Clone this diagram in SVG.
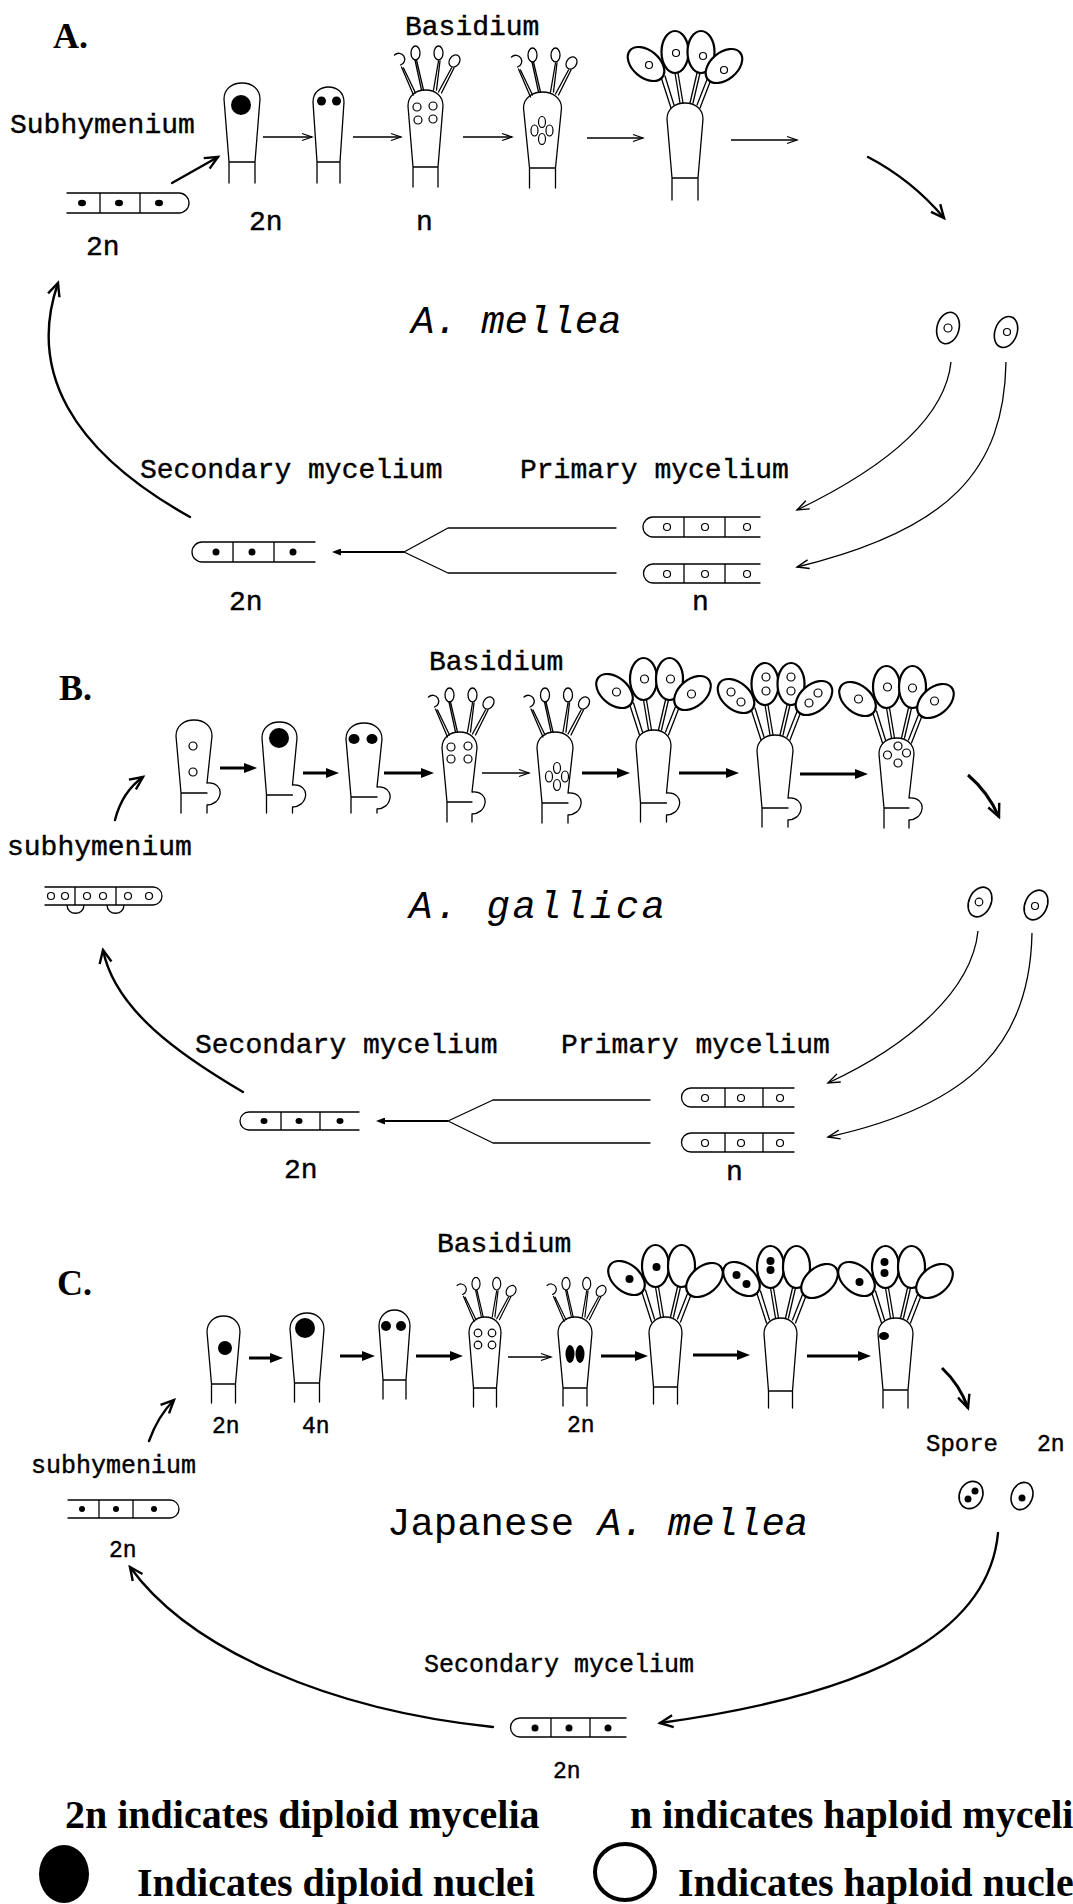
<svg xmlns="http://www.w3.org/2000/svg" width="1073" height="1904" viewBox="0 0 1073 1904">
<defs>
<style>
.ln{fill:none;stroke:#000;stroke-width:1.3;stroke-linecap:round;stroke-linejoin:round}
.nu{fill:none;stroke:#000;stroke-width:1.2}
.dk{fill:#000}
.bs{fill:#fff;stroke:#000;stroke-width:2.2}
.fs{fill:#fff;stroke:#000;stroke-width:1.6}
.t{font-family:"Liberation Mono","DejaVu Sans Mono",monospace;font-size:28px;fill:#000;stroke:#000;stroke-width:0.4}
.t2{font-size:24px}
.t3{font-size:25px}
.t4{font-size:23px}
.sn{font-family:"Liberation Mono","DejaVu Sans Mono",monospace;font-size:39px;fill:#000}
.it{font-style:italic}
.hd{font-family:"Liberation Serif","Times New Roman",serif;font-weight:bold;font-size:36px;fill:#000}
.lg{font-family:"Liberation Serif","Times New Roman",serif;font-weight:bold;font-size:40px;fill:#000}
.a1{fill:none;stroke:#000;stroke-width:1.3}
.a3{fill:none;stroke:#000;stroke-width:3}
.a2{fill:none;stroke:#000;stroke-width:2.4;stroke-linecap:round}
</style>
<marker id="hT" viewBox="0 0 10 8" refX="10" refY="4" markerWidth="10" markerHeight="8" markerUnits="userSpaceOnUse" orient="auto" overflow="visible"><path d="M0,0.5 L10,4 L0,7.5" fill="none" stroke="#000" stroke-width="1.3"/></marker>
<marker id="hB" viewBox="0 0 13 10" refX="3" refY="5" markerWidth="13" markerHeight="10" markerUnits="userSpaceOnUse" orient="auto"><path d="M0,0 L13,5 L0,10z" fill="#000"/></marker>
<marker id="hS" viewBox="0 0 9 7" refX="2" refY="3.5" markerWidth="9" markerHeight="7" markerUnits="userSpaceOnUse" orient="auto"><path d="M0,0 L9,3.5 L0,7z" fill="#000"/></marker>
<marker id="hC" viewBox="0 0 14 12" refX="13" refY="6" markerWidth="14" markerHeight="12" markerUnits="userSpaceOnUse" orient="auto" overflow="visible"><path d="M0,0 L13,6 L0,12" fill="none" stroke="#000" stroke-width="2.4"/></marker>
<marker id="hV" viewBox="0 0 12 10" refX="12" refY="5" markerWidth="12" markerHeight="10" markerUnits="userSpaceOnUse" orient="auto" overflow="visible"><path d="M0,0.5 L12,5 L0,9.5" fill="none" stroke="#000" stroke-width="1.4"/></marker>
<!-- sterigmata with four young spores, origin at the top of the basidium -->
<g id="stS">
<path class="ln" d="M-24,-23 L-12,5 M-22,-22 L-10,3 M-10.5,-30 L-4,0 M-9,-30 L-2,0 M13,-29 L8,0 M14.5,-29 L11,0 M26,-22 L13,2 M28.5,-22 L16,3"/>
<path class="ln" d="M-31,-35 A6,6 0 1 1 -25,-25"/>
<ellipse class="ln" cx="-10" cy="-37" rx="4.5" ry="7"/>
<ellipse class="ln" cx="13" cy="-37" rx="4.5" ry="7"/>
<ellipse class="ln" cx="29" cy="-29" rx="5" ry="6.5" transform="rotate(35 29 -29)"/>
</g>
<!-- sterigmata with four mature basidiospores -->
<g id="stB">
<path class="ln" d="M-24,-26 L-14,5 M-20,-27 L-11,2 M-10,-30 L-5,0 M-7,-30 L-2,0 M12,-30 L5,0 M15,-30 L8,0 M23,-26 L12,2 M27,-26 L15,5"/>
<ellipse class="bs" cx="-39" cy="-39" rx="21" ry="13.5" transform="rotate(40 -39 -39)"/>
<ellipse class="bs" cx="-10" cy="-51" rx="13.5" ry="21"/>
<ellipse class="bs" cx="16" cy="-51" rx="13.5" ry="21"/>
<ellipse class="bs" cx="39" cy="-37" rx="21" ry="13.5" transform="rotate(-40 39 -37)"/>
</g>
</defs>
<rect width="1073" height="1904" fill="#fff"/>

<!-- ===== A. A. mellea ===== -->
<g id="a-title"><text class="hd" x="53" y="48">A.</text></g>
<g id="a-labels">
<text class="t" x="405" y="35">Basidium</text>
<text class="t" x="10" y="133">Subhymenium</text>
<text class="t" x="86" y="255">2n</text>
<text class="t" x="249" y="230">2n</text>
<text class="t" x="416" y="230">n</text>
<text class="sn it" x="411" y="333">A. mellea</text>
<text class="t" x="140" y="478">Secondary mycelium</text>
<text class="t" x="520" y="478">Primary mycelium</text>
<text class="t" x="229" y="610">2n</text>
<text class="t" x="692" y="610">n</text>
</g>
<g id="a-subhym">
<path class="ln" d="M67,193 H179 A10,10 0 0 1 179,213 H67 M100,193 V213 M140,193 V213"/>
<ellipse class="dk" cx="82" cy="203" rx="4" ry="3.2"/><ellipse class="dk" cx="119" cy="203" rx="4" ry="3.2"/><ellipse class="dk" cx="159" cy="203" rx="4" ry="3.2"/>
</g>
<g id="a-cell1" transform="translate(242,83)">
<path class="ln" d="M-13,100 V79 L-18,16 C-18,6 -10,0 0,0 C10,0 18,6 18,16 L13,79 V100 M-13,79 H13"/>
<circle class="dk" cx="-1" cy="22" r="10"/>
</g>
<g id="a-cell2" transform="translate(328.5,87)">
<path class="ln" d="M-11.5,96 V75 L-15.5,15 C-15.5,5 -8,0 0,0 C8,0 15.5,5 15.5,15 L11.5,75 V96 M-11.5,75 H11.5"/>
<circle class="dk" cx="-7" cy="14" r="4.5"/><circle class="dk" cx="8" cy="14" r="4.5"/>
</g>
<g id="a-cell3" transform="translate(425.5,90)">
<path class="ln" d="M-12.5,97 V77 L-17.5,16 C-17.5,6 -10,0 0,0 C10,0 17.5,6 17.5,16 L12.5,77 V97 M-12.5,77 H12.5"/>
<use href="#stS"/>
<circle class="nu" cx="-8.5" cy="17" r="4"/><circle class="nu" cx="7.5" cy="16" r="4"/><circle class="nu" cx="-7.5" cy="30" r="4"/><circle class="nu" cx="7.5" cy="29" r="4"/>
</g>
<g id="a-cell4" transform="translate(542.5,92)">
<path class="ln" d="M-13,96 V76 L-19,16 C-19,6 -10,0 0,0 C10,0 19,6 19,16 L13,76 V96 M-13,76 H13"/>
<use href="#stS"/>
<ellipse class="nu" cx="-0.5" cy="30" rx="3.5" ry="5.5"/><ellipse class="nu" cx="-0.5" cy="47" rx="3.5" ry="5.5"/><ellipse class="nu" cx="-8" cy="38.5" rx="3.5" ry="5.5"/><ellipse class="nu" cx="7" cy="38.5" rx="3.5" ry="5.5"/>
</g>
<g id="a-cell5" transform="translate(685,103)">
<path class="ln" d="M-13,97 V75 L-18,16 C-18,6 -10,0 0,0 C10,0 18,6 18,16 L13,75 V97 M-13,75 H13"/>
<use href="#stB"/>
<circle class="nu" cx="-36" cy="-38" r="3.5"/><circle class="nu" cx="-9" cy="-50" r="3.5"/><circle class="nu" cx="18" cy="-47" r="3.5"/><circle class="nu" cx="39" cy="-33" r="3.5"/>
</g>
<g id="a-spores">
<ellipse class="fs" cx="948" cy="328" rx="11" ry="16" transform="rotate(15 948 328)"/><circle class="nu" cx="948" cy="328" r="4"/>
<ellipse class="fs" cx="1006" cy="332" rx="11" ry="16" transform="rotate(20 1006 332)"/><circle class="nu" cx="1007" cy="332" r="3.5"/>
</g>
<g id="a-secondary">
<path class="ln" d="M315,542 H202 A10,10 0 0 0 202,562 H315 M233,542 V562 M274,542 V562"/>
<circle class="dk" cx="216" cy="552" r="3.5"/><circle class="dk" cx="252" cy="552" r="3.5"/><circle class="dk" cx="293" cy="552" r="3.5"/>
</g>
<g id="a-primary">
<path class="ln" d="M760,517 H653 A10,10 0 0 0 653,537 H760 M684,517 V537 M725,517 V537"/>
<circle class="nu" cx="667" cy="527" r="3.5"/><circle class="nu" cx="705" cy="527" r="3.5"/><circle class="nu" cx="747" cy="527" r="3.5"/>
<path class="ln" d="M760,564 H653 A9.5,9.5 0 0 0 653,583 H760 M684,564 V583 M725,564 V583"/>
<circle class="nu" cx="667" cy="574" r="3.5"/><circle class="nu" cx="705" cy="574" r="3.5"/><circle class="nu" cx="747" cy="574" r="3.5"/>
</g>

<!-- ===== B. A. gallica ===== -->
<g id="b-title"><text class="hd" x="59" y="700">B.</text></g>
<g id="b-labels">
<text class="t" x="429" y="670">Basidium</text>
<text class="t" x="7" y="855">subhymenium</text>
<text class="sn it" x="409" y="918" textLength="256">A. gallica</text>
<text class="t" x="195" y="1053">Secondary mycelium</text>
<text class="t" x="561" y="1053">Primary mycelium</text>
<text class="t" x="284" y="1178">2n</text>
<text class="t" x="726" y="1180">n</text>
</g>
<g id="b-subhym">
<path class="ln" d="M45,887 H153 A9,9 0 0 1 153,905 H45 M75,887 V905 M116,887 V905 M67,905 C67,916 84,916 84,905 M107,905 C107,916 124,916 124,905"/>
<circle class="nu" cx="51" cy="896" r="3.5"/><circle class="nu" cx="65" cy="896" r="3.5"/><circle class="nu" cx="87" cy="896" r="3.5"/><circle class="nu" cx="103" cy="896" r="3.5"/><circle class="nu" cx="128" cy="896" r="3.5"/><circle class="nu" cx="149" cy="896" r="3.5"/>
</g>
<g id="b-cell1" transform="translate(194,720)">
<path class="ln" d="M-13,93 V73 L-18,16 C-18,6 -10,0 0,0 C10,0 18,6 18,16 L13,63 C22,62 27,68 26,74 C25,81 19,85 13,85 V93 M-13,73 H13"/>
<circle class="nu" cx="-1" cy="26" r="4"/><circle class="nu" cx="-1" cy="52" r="4"/>
</g>
<g id="b-cell2" transform="translate(279.5,722)">
<path class="ln" d="M-13,91 V73 L-17.5,16 C-17.5,6 -10,0 0,0 C10,0 17.5,6 17.5,16 L13,63 C22,62 27,68 26,74 C25,81 19,85 13,85 V91 M-13,73 H13"/>
<circle class="dk" cx="-0.5" cy="16" r="10"/>
</g>
<g id="b-cell3" transform="translate(364,723)">
<path class="ln" d="M-13,90 V74 L-18,16 C-18,6 -10,0 0,0 C10,0 18,6 18,16 L13,64 C22,63 27,69 26,75 C25,82 19,86 13,86 V90 M-13,74 H13"/>
<ellipse class="dk" cx="-10" cy="16" rx="5.5" ry="5"/><ellipse class="dk" cx="8" cy="16" rx="5.5" ry="5"/>
</g>
<g id="b-cell4" transform="translate(459.5,732)">
<path class="ln" d="M-12.5,90 V70 L-17.5,16 C-17.5,6 -10,0 0,0 C10,0 17.5,6 17.5,16 L12.5,60 C21.5,59 26.5,65 25.5,71 C24.5,78 18.5,82 12.5,82 V90 M-12.5,70 H12.5"/>
<use href="#stS"/>
<circle class="nu" cx="-8.5" cy="15" r="4"/><circle class="nu" cx="8.5" cy="14" r="4"/><circle class="nu" cx="-8.5" cy="27" r="4"/><circle class="nu" cx="8.5" cy="27" r="4"/>
</g>
<g id="b-cell5" transform="translate(555,732)">
<path class="ln" d="M-13,91 V71 L-18,16 C-18,6 -10,0 0,0 C10,0 18,6 18,16 L13,61 C22,60 27,66 26,72 C25,79 19,83 13,83 V91 M-13,71 H13"/>
<use href="#stS"/>
<ellipse class="nu" cx="2" cy="36" rx="3.5" ry="5.5"/><ellipse class="nu" cx="2" cy="53" rx="3.5" ry="5.5"/><ellipse class="nu" cx="-6" cy="44.5" rx="3.5" ry="5.5"/><ellipse class="nu" cx="10" cy="44.5" rx="3.5" ry="5.5"/>
</g>
<g id="b-cell6" transform="translate(653.5,730)">
<path class="ln" d="M-13,92 V73 L-17.5,16 C-17.5,6 -10,0 0,0 C10,0 17.5,6 17.5,16 L13,63 C22,62 27,68 26,74 C25,81 19,85 13,85 V92 M-13,73 H13"/>
<use href="#stB"/>
<circle class="nu" cx="-37" cy="-38" r="4"/><circle class="nu" cx="-9" cy="-51" r="4"/><circle class="nu" cx="17" cy="-51" r="4"/><circle class="nu" cx="38" cy="-36" r="4"/>
</g>
<g id="b-cell7" transform="translate(775,735)">
<path class="ln" d="M-13,92 V73 L-18,16 C-18,6 -10,0 0,0 C10,0 18,6 18,16 L13,63 C22,62 27,68 26,74 C25,81 19,85 13,85 V92 M-13,73 H13"/>
<use href="#stB"/>
<circle class="nu" cx="-44" cy="-43" r="4"/><circle class="nu" cx="-34" cy="-33" r="4"/>
<circle class="nu" cx="-9" cy="-58" r="4"/><circle class="nu" cx="-9" cy="-44" r="4"/>
<circle class="nu" cx="16" cy="-58" r="4"/><circle class="nu" cx="16" cy="-44" r="4"/>
<circle class="nu" cx="43" cy="-42" r="4"/><circle class="nu" cx="34" cy="-32" r="4"/>
</g>
<g id="b-cell8" transform="translate(896.5,738)">
<path class="ln" d="M-12.5,90 V70 L-17.5,16 C-17.5,6 -10,0 0,0 C10,0 17.5,6 17.5,16 L12.5,60 C21.5,59 26.5,65 25.5,71 C24.5,78 18.5,82 12.5,82 V90 M-12.5,70 H12.5"/>
<use href="#stB"/>
<circle class="nu" cx="-38" cy="-39" r="4"/><circle class="nu" cx="-9" cy="-51" r="4"/><circle class="nu" cx="16" cy="-50" r="4"/><circle class="nu" cx="38" cy="-37" r="4"/>
<circle class="nu" cx="1.5" cy="8" r="4"/><circle class="nu" cx="-9" cy="17" r="4"/><circle class="nu" cx="10" cy="15" r="4"/><circle class="nu" cx="1.5" cy="25" r="4"/>
</g>
<g id="b-spores">
<ellipse class="fs" cx="980" cy="902" rx="11" ry="15.5" transform="rotate(25 980 902)"/><circle class="nu" cx="979" cy="902" r="3.8"/>
<ellipse class="fs" cx="1036" cy="905" rx="11" ry="15.5" transform="rotate(25 1036 905)"/><circle class="nu" cx="1035" cy="906" r="3.5"/>
</g>
<g id="b-secondary">
<path class="ln" d="M359,1112 H249 A9,9 0 0 0 249,1130 H359 M281,1112 V1130 M320,1112 V1130"/>
<ellipse class="dk" cx="264" cy="1121" rx="3.5" ry="3"/><ellipse class="dk" cx="299" cy="1121" rx="3.5" ry="3"/><ellipse class="dk" cx="340" cy="1121" rx="3.5" ry="3"/>
</g>
<g id="b-primary">
<path class="ln" d="M794,1088 H691 A9.5,9.5 0 0 0 691,1107 H794 M725,1088 V1107 M763,1088 V1107"/>
<circle class="nu" cx="705" cy="1098" r="3.5"/><circle class="nu" cx="741" cy="1098" r="3.5"/><circle class="nu" cx="780" cy="1098" r="3.5"/>
<path class="ln" d="M794,1133 H691 A9.5,9.5 0 0 0 691,1152 H794 M725,1133 V1152 M763,1133 V1152"/>
<circle class="nu" cx="705" cy="1143" r="3.5"/><circle class="nu" cx="741" cy="1143" r="3.5"/><circle class="nu" cx="780" cy="1143" r="3.5"/>
</g>

<!-- ===== C. Japanese A. mellea ===== -->
<g id="c-title"><text class="hd" x="57" y="1295">C.</text></g>
<g id="c-labels">
<text class="t" x="437" y="1252">Basidium</text>
<text class="t t4" x="212" y="1433">2n</text>
<text class="t t4" x="302" y="1433">4n</text>
<text class="t t4" x="567" y="1432">2n</text>
<text class="t t3" x="31" y="1473">subhymenium</text>
<text class="t t4" x="109" y="1557">2n</text>
<text class="t t2" x="926" y="1451">Spore</text>
<text class="t t4" x="1037" y="1451">2n</text>
<text class="sn" x="387" y="1535">Japanese <tspan class="it">A. mellea</tspan></text>
<text class="t t3" x="424" y="1672">Secondary mycelium</text>
<text class="t t4" x="553" y="1778">2n</text>
</g>
<g id="c-subhym">
<path class="ln" d="M68,1500 H170 A9,9 0 0 1 170,1518 H68 M99,1500 V1518 M133,1500 V1518"/>
<circle class="dk" cx="82" cy="1509" r="3"/><circle class="dk" cx="116" cy="1509" r="3"/><circle class="dk" cx="154" cy="1509" r="3"/>
</g>
<g id="c-cell1" transform="translate(223.5,1316)">
<path class="ln" d="M-12,87 V68 L-16.5,16 C-16.5,6 -9,0 0,0 C9,0 16.5,6 16.5,16 L12,68 V87 M-12,68 H12"/>
<circle class="dk" cx="1.5" cy="32" r="7"/>
</g>
<g id="c-cell2" transform="translate(307,1313)">
<path class="ln" d="M-12.5,89 V70 L-17,16 C-17,6 -9,0 0,0 C9,0 17,6 17,16 L12.5,70 V89 M-12.5,70 H12.5"/>
<circle class="dk" cx="-2" cy="15" r="10"/>
</g>
<g id="c-cell3" transform="translate(394.5,1310)">
<path class="ln" d="M-11.5,89 V70 L-15.5,16 C-15.5,6 -8,0 0,0 C8,0 15.5,6 15.5,16 L11.5,70 V89 M-11.5,70 H11.5"/>
<circle class="dk" cx="-8.5" cy="16" r="5"/><circle class="dk" cx="6.5" cy="16" r="5"/>
</g>
<g id="c-cell4" transform="translate(485,1317)">
<path class="ln" d="M-11.5,90 V71 L-16,16 C-16,6 -9,0 0,0 C9,0 16,6 16,16 L11.5,71 V90 M-11.5,71 H11.5"/>
<use href="#stS" transform="scale(0.9)"/>
<circle class="nu" cx="-7" cy="16" r="3.8"/><circle class="nu" cx="7" cy="16" r="3.8"/><circle class="nu" cx="-7" cy="28" r="3.8"/><circle class="nu" cx="7" cy="28" r="3.8"/>
</g>
<g id="c-cell5" transform="translate(575,1317)">
<path class="ln" d="M-12,89 V71 L-17,16 C-17,6 -9,0 0,0 C9,0 17,6 17,16 L12,71 V89 M-12,71 H12"/>
<use href="#stS" transform="scale(0.9)"/>
<ellipse class="dk" cx="-5" cy="37" rx="4.5" ry="9"/><ellipse class="dk" cx="5" cy="37" rx="4.5" ry="9"/>
</g>
<g id="c-cell6" transform="translate(665.5,1317)">
<path class="ln" d="M-12,87 V70 L-16.5,16 C-16.5,6 -9,0 0,0 C9,0 16.5,6 16.5,16 L12,70 V87 M-12,70 H12"/>
<use href="#stB"/>
<circle class="dk" cx="-36" cy="-38" r="4"/><circle class="dk" cx="-9" cy="-50" r="4"/>
</g>
<g id="c-cell7" transform="translate(780.5,1318)">
<path class="ln" d="M-12,90 V73 L-16.5,16 C-16.5,6 -9,0 0,0 C9,0 16.5,6 16.5,16 L12,73 V90 M-12,73 H12"/>
<use href="#stB"/>
<circle class="dk" cx="-44" cy="-43" r="4"/><circle class="dk" cx="-34" cy="-34" r="4"/>
<circle class="dk" cx="-10" cy="-57" r="4"/><circle class="dk" cx="-10" cy="-48" r="4"/>
</g>
<g id="c-cell8" transform="translate(895.5,1318)">
<path class="ln" d="M-12.5,90 V72 L-17.5,16 C-17.5,6 -10,0 0,0 C10,0 17.5,6 17.5,16 L12.5,72 V90 M-12.5,72 H12.5"/>
<use href="#stB"/>
<circle class="dk" cx="-36" cy="-36" r="4"/>
<circle class="dk" cx="-11" cy="-56" r="4"/><circle class="dk" cx="-11" cy="-45" r="4"/>
<ellipse class="dk" cx="-11.5" cy="18" rx="5" ry="4"/>
</g>
<g id="c-spores">
<ellipse class="fs" cx="971" cy="1495" rx="11.5" ry="14" transform="rotate(25 971 1495)"/><circle class="dk" cx="968" cy="1499" r="3.5"/><circle class="dk" cx="975" cy="1491" r="3.5"/>
<ellipse class="fs" cx="1022" cy="1496" rx="10.5" ry="14" transform="rotate(20 1022 1496)"/><circle class="dk" cx="1022" cy="1498" r="3.5"/>
</g>
<g id="c-secondary">
<path class="ln" d="M626,1718 H520 A9.5,9.5 0 0 0 520,1737 H626 M551,1718 V1737 M590,1718 V1737"/>
<circle class="dk" cx="535" cy="1728" r="3.5"/><circle class="dk" cx="569" cy="1728" r="3.5"/><circle class="dk" cx="608" cy="1728" r="3.5"/>
</g>

<!-- ===== legend ===== -->
<g id="legend">
<text class="lg" x="65" y="1828">2n indicates diploid mycelia</text>
<text class="lg" x="630" y="1828">n indicates haploid myceli</text>
<ellipse cx="64" cy="1874" rx="25" ry="29" fill="#000"/>
<text class="lg" x="137" y="1896">Indicates diploid nuclei</text>
<ellipse cx="625" cy="1872" rx="30" ry="28" fill="none" stroke="#000" stroke-width="4"/>
<text class="lg" x="678" y="1896">Indicates haploid nucle</text>
</g>

<!-- ===== connectors ===== -->
<g id="connectors">
<!-- A -->
<path class="a2" d="M172,183 L218,157" marker-end="url(#hC)"/>
<path class="a1" d="M263,137 H312" marker-end="url(#hT)"/>
<path class="a1" d="M353,137 H401" marker-end="url(#hT)"/>
<path class="a1" d="M463,137 H512" marker-end="url(#hT)"/>
<path class="a1" d="M587,138 H643" marker-end="url(#hT)"/>
<path class="a1" d="M731,140 H797" marker-end="url(#hT)"/>
<path class="a2" d="M868,157 Q912,180 944,218" marker-end="url(#hC)"/>
<path class="a1" d="M951,362 C945,420 880,470 797,510" marker-end="url(#hV)"/>
<path class="a1" d="M1006,362 C1004,470 950,530 797,567" marker-end="url(#hV)"/>
<path class="ln" d="M616,528 H448 L404,552 L448,573 H616"/>
<path fill="none" stroke="#000" stroke-width="1.8" d="M404,552 H339" marker-end="url(#hS)"/>
<path class="a2" d="M190,517 C70,450 28,370 58,283" marker-end="url(#hC)"/>
<!-- B -->
<path class="a2" d="M115,820 Q122,792 143,777" marker-end="url(#hC)"/>
<path class="a3" d="M220,768 H247" marker-end="url(#hB)"/>
<path class="a3" d="M303,773 H329" marker-end="url(#hB)"/>
<path class="a3" d="M384,773 H424" marker-end="url(#hB)"/>
<path class="a1" d="M482,773 H529" marker-end="url(#hT)"/>
<path class="a3" d="M582,773 H620" marker-end="url(#hB)"/>
<path class="a3" d="M679,773 H729" marker-end="url(#hB)"/>
<path class="a3" d="M800,774 H858" marker-end="url(#hB)"/>
<path class="a3" d="M968,775 Q988,792 999,817" marker-end="url(#hC)"/>
<path class="a1" d="M978,931 C972,990 910,1045 828,1083" marker-end="url(#hV)"/>
<path class="a1" d="M1032,933 C1030,1040 975,1105 828,1137" marker-end="url(#hV)"/>
<path class="ln" d="M650,1100 H493 L448,1121 L493,1143 H650"/>
<path fill="none" stroke="#000" stroke-width="1.8" d="M448,1121 H383" marker-end="url(#hS)"/>
<path class="a2" d="M243,1092 C180,1055 115,1010 103,950" marker-end="url(#hC)"/>
<!-- C -->
<path class="a2" d="M149,1441 Q158,1416 174,1400" marker-end="url(#hC)"/>
<path class="a3" d="M249,1358 H273" marker-end="url(#hB)"/>
<path class="a3" d="M340,1356 H365" marker-end="url(#hB)"/>
<path class="a3" d="M416,1356 H453" marker-end="url(#hB)"/>
<path class="a1" d="M508,1357 H551" marker-end="url(#hT)"/>
<path class="a3" d="M601,1356 H638" marker-end="url(#hB)"/>
<path class="a3" d="M693,1355 H740" marker-end="url(#hB)"/>
<path class="a3" d="M807,1356 H861" marker-end="url(#hB)"/>
<path class="a3" d="M942,1368 Q960,1385 968,1408" marker-end="url(#hC)"/>
<path class="a2" d="M998,1533 C990,1620 900,1690 660,1723" marker-end="url(#hC)"/>
<path class="a2" d="M493,1727 C330,1710 190,1650 130,1567" marker-end="url(#hC)"/>
</g>
</svg>
